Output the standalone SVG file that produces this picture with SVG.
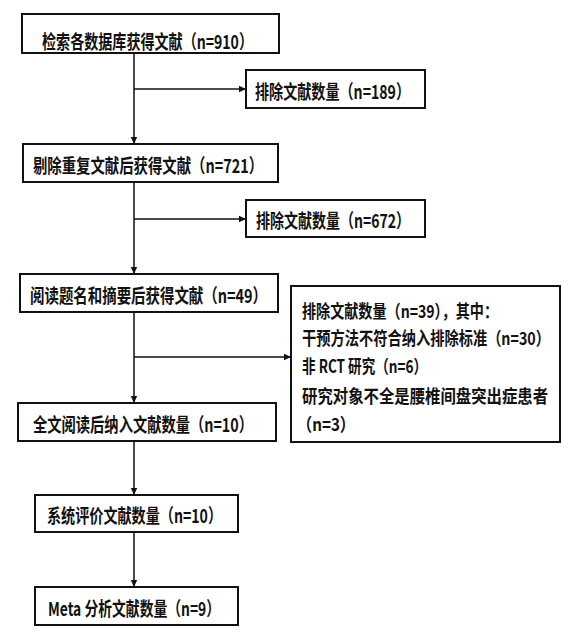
<svg xmlns="http://www.w3.org/2000/svg" width="582" height="635" viewBox="0 0 582 635">
<defs>
<marker id="ah" markerWidth="8" markerHeight="8" refX="7" refY="4" orient="auto" markerUnits="userSpaceOnUse">
<path d="M0,0.8 L7,4 L0,7.2 Z" fill="#111"/>
</marker>
<style>
.box{fill:#fff;stroke:#111;stroke-width:2}
.t{font-family:"Noto Sans CJK SC","Noto Sans",sans-serif;font-size:19px;font-weight:700;fill:#111;dominant-baseline:central}
.s{font-size:18px}
.c{stroke:#111;stroke-width:1.5;fill:none}
</style>
</defs>
<rect width="582" height="635" fill="#fff"/>
<g id="connectors">
<line class="c" x1="134" y1="53" x2="134" y2="144" marker-end="url(#ah)"/>
<line class="c" x1="134" y1="89" x2="246" y2="89" marker-end="url(#ah)"/>
<line class="c" x1="134" y1="182" x2="134" y2="274" marker-end="url(#ah)"/>
<line class="c" x1="134" y1="219" x2="246" y2="219" marker-end="url(#ah)"/>
<line class="c" x1="134" y1="312" x2="134" y2="403" marker-end="url(#ah)"/>
<line class="c" x1="134" y1="357" x2="291" y2="357" marker-end="url(#ah)"/>
<line class="c" x1="134" y1="441" x2="134" y2="495" marker-end="url(#ah)"/>
<line class="c" x1="134" y1="532" x2="134" y2="587" marker-end="url(#ah)"/>
</g>
<g id="n1">
<rect class="box" x="22" y="14" width="257" height="39"/>
<text class="t" transform="translate(42,41) scale(0.78,1)" textLength="270.5" lengthAdjust="spacingAndGlyphs">检索各数据库获得文献（n=910）</text>
</g>
<g id="n2">
<rect class="box" x="246" y="70" width="179" height="38"/>
<text class="t" transform="translate(255,91) scale(0.78,1)" textLength="198.7" lengthAdjust="spacingAndGlyphs">排除文献数量（n=189）</text>
</g>
<g id="n3">
<rect class="box" x="23" y="144" width="255" height="38"/>
<text class="t" transform="translate(33,165) scale(0.78,1)" textLength="294.9" lengthAdjust="spacingAndGlyphs">剔除重复文献后获得文献（n=721）</text>
</g>
<g id="n4">
<rect class="box" x="246" y="200" width="179" height="37"/>
<text class="t" transform="translate(256,220) scale(0.78,1)" textLength="197.4" lengthAdjust="spacingAndGlyphs">排除文献数量（n=672）</text>
</g>
<g id="n5">
<rect class="box" x="20" y="274" width="258" height="38"/>
<text class="t" transform="translate(30,295) scale(0.78,1)" textLength="303.8" lengthAdjust="spacingAndGlyphs">阅读题名和摘要后获得文献（n=49）</text>
</g>
<g id="n6">
<rect class="box" x="291" y="286" width="269" height="156"/>
<text class="t s" transform="translate(302,310) scale(0.78,1)" textLength="251.3" lengthAdjust="spacingAndGlyphs">排除文献数量（n=39），其中：</text>
<text class="t s" transform="translate(302,337) scale(0.78,1)" textLength="317.9" lengthAdjust="spacingAndGlyphs">干预方法不符合纳入排除标准（n=30）</text>
<text class="t s" transform="translate(302,365) scale(0.78,1)" textLength="160.3" lengthAdjust="spacingAndGlyphs">非 RCT 研究（n=6）</text>
<text class="t s" transform="translate(302,395) scale(0.78,1)" textLength="315.4" lengthAdjust="spacingAndGlyphs">研究对象不全是腰椎间盘突出症患者</text>
<text class="t s" transform="translate(297,423) scale(0.78,1)" textLength="74.4" lengthAdjust="spacingAndGlyphs">（n=3）</text>
</g>
<g id="n7">
<rect class="box" x="18" y="403" width="258" height="38"/>
<text class="t" transform="translate(33,424) scale(0.78,1)" textLength="282" lengthAdjust="spacingAndGlyphs">全文阅读后纳入文献数量（n=10）</text>
</g>
<g id="n8">
<rect class="box" x="35" y="495" width="203" height="37"/>
<text class="t" transform="translate(47,515) scale(0.78,1)" textLength="224.4" lengthAdjust="spacingAndGlyphs">系统评价文献数量（n=10）</text>
</g>
<g id="n9">
<rect class="box" x="35" y="587" width="203" height="38"/>
<text class="t" transform="translate(48,608) scale(0.78,1)" textLength="220.5" lengthAdjust="spacingAndGlyphs">Meta 分析文献数量（n=9）</text>
</g>
</svg>
